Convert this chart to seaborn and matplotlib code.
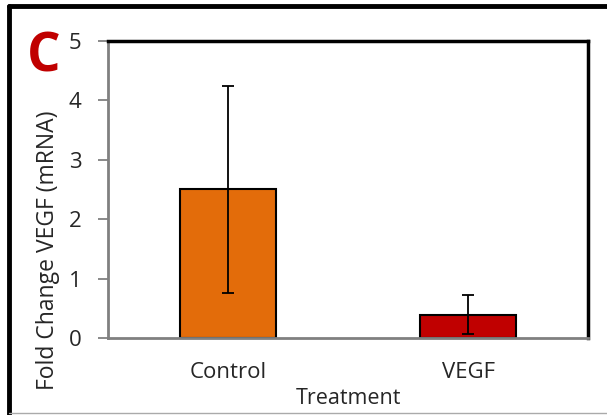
import pandas as pd
import matplotlib
matplotlib.use("Agg")
import matplotlib.pyplot as plt
import seaborn as sns
from matplotlib.lines import Line2D

treatments = ["Control", "VEGF"]
fold_change = [2.50, 0.39]
err_low = [1.74, 0.33]
err_high = [1.74, 0.33]
bar_colors = ["#E36C0A", "#C00000"]

sns.set_style("white")
plt.rcParams['font.family'] = ['Open Sans', 'DejaVu Sans']

df = pd.DataFrame({"Treatment": treatments, "Fold": fold_change})

fig = plt.figure(figsize=(6.07, 4.15), dpi=100)
ax = fig.add_axes([108/607, 1 - 338/415, 480/607, 297/415])

sns.barplot(data=df, x="Treatment", y="Fold", hue="Treatment", palette=bar_colors,
            saturation=1, width=0.4, errorbar=None, edgecolor="black", linewidth=1.5,
            legend=False, ax=ax)
ax.errorbar(range(len(treatments)), fold_change, yerr=[err_low, err_high], fmt="none",
            ecolor="black", elinewidth=1.3, capsize=4.5, capthick=1.3)

ax.set_xlim(-0.5, 1.5)
ax.set_ylim(0, 5)
ax.set_yticks([0, 1, 2, 3, 4, 5])
ax.tick_params(axis="y", left=True, length=7, width=1.3, color="#808080", labelsize=16, pad=12)
ax.tick_params(axis="x", bottom=False, labelsize=16, pad=14)

for side in ["top", "right"]:
    ax.spines[side].set_color("black")
    ax.spines[side].set_linewidth(2.5)
for side in ["left", "bottom"]:
    ax.spines[side].set_color("#808080")
    ax.spines[side].set_linewidth(2)

ax.set_xlabel("Treatment", fontsize=15.5)
ax.set_ylabel("Fold Change VEGF (mRNA)", fontsize=16.5)
# label positions in axes coords, as in the reference
ax.xaxis.set_label_coords(0.5, -60/297, transform=ax.transAxes)
ax.yaxis.set_label_coords(-60/480, 88/297, transform=ax.transAxes)
ax.xaxis.label.set_va("center")
ax.yaxis.label.set_va("center")

fig.text(27/607, 1 - 58/415, "C", color="#C00000", fontsize=38, fontweight="bold", va="center", ha="left")

# outer frame
fig.add_artist(Line2D([9/607, 9/607], [1 - 6/415, 0], transform=fig.transFigure, color="black", lw=3.5))
fig.add_artist(Line2D([9/607, 1], [1 - 6/415, 1 - 6/415], transform=fig.transFigure, color="black", lw=3.5))
fig.add_artist(Line2D([9/607, 1], [2/415, 2/415], transform=fig.transFigure, color="#AAAAAA", lw=1))

fig.savefig("out.png", dpi=100)
